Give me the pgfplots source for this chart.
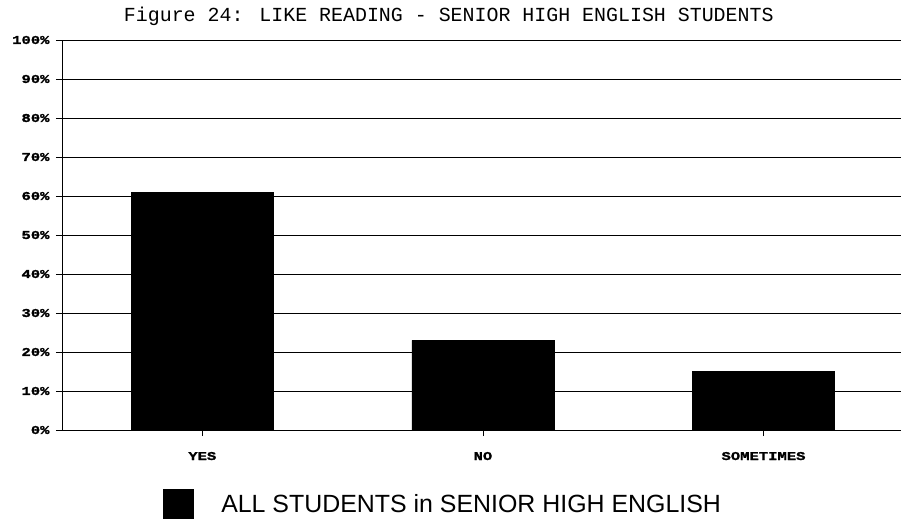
\documentclass[border=0pt]{standalone}
\usepackage{pgfplots}
\pgfplotsset{compat=1.18}
\usepackage{fontspec}
\setmainfont{Liberation Sans}
\newfontfamily\courier{Liberation Mono}
\newfontfamily\tickfont[FakeStretch=1.3,FakeBold=1.5]{Liberation Mono}
\begin{document}
\begin{tikzpicture}
\path[use as bounding box] (-62bp,-89bp) rectangle (839bp,40bp+390bp);
\begin{axis}[
  scale only axis,
  width=839bp, height=390bp,
  ybar, bar width=0.506,
  xmin=-0.5, xmax=2.49,
  ymin=0, ymax=100,
  axis lines*=left,
  axis line style={black, line width=0.8pt},
  xtick={0,1,2},
  xticklabels={YES,NO,SOMETIMES},
  ytick={0,10,...,100},
  yticklabels={0\%,10\%,20\%,30\%,40\%,50\%,60\%,70\%,80\%,90\%,100\%},
  ymajorgrids,
  grid style={black, line width=0.7pt},
  tick align=outside,
  major tick length=6bp,
  tick style={black, line width=0.6pt},
  x tick label style={font=\tickfont\bfseries\fontsize{12}{12}\selectfont, anchor=base, yshift=-24bp},
  y tick label style={font=\tickfont\bfseries\fontsize{12}{12}\selectfont, anchor=east, xshift=-3bp},
  title={Figure 24: LIKE READING - SENIOR HIGH ENGLISH STUDENTS},
  title style={font=\courier\fontsize{20}{20}\selectfont, at={(0.461,1)}, anchor=base, yshift=13bp},
  legend style={draw=none, fill=none, at={(rel axis cs:0.12,0)}, anchor=west, yshift=-74bp,
    font=\fontsize{25}{26}\selectfont, column sep=0pt, inner sep=0pt,
    nodes={inner sep=0pt, anchor=west}},
  legend image code/.code={\fill[black] (0bp,-15bp) rectangle (30bp,15bp);},
  legend cell align=left,
]
\addplot[fill=black, draw=black] coordinates {(0,61) (1,23) (2,15)};
\addlegendentry{\hspace{28bp}ALL STUDENTS in SENIOR HIGH ENGLISH}
\end{axis}
\end{tikzpicture}
\end{document}
